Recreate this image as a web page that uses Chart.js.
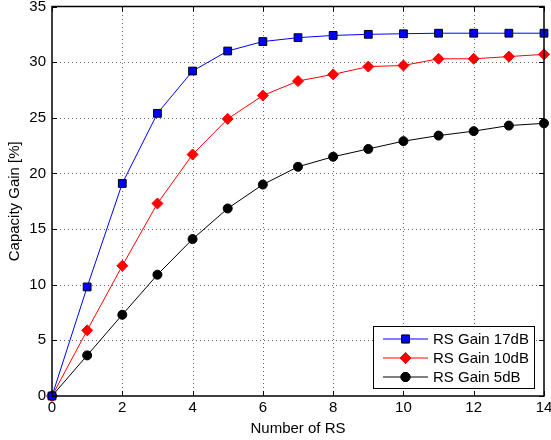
<!DOCTYPE html>
<html>
<head>
<meta charset="utf-8">
<script src="https://cdn.jsdelivr.net/npm/chart.js@4/dist/chart.umd.min.js"></script>
<style>
  html, body { margin: 0; padding: 0; background: #fff; }
  #wrap { width: 551px; height: 440px; }
</style>
</head>
<body>
<div id="wrap"><canvas id="c"></canvas></div>
<script>
const numRS = [0, 1, 2, 3, 4, 5, 6, 7, 8, 9, 10, 11, 12, 13, 14];
const gain17dB = [0, 9.8, 19.1, 25.4, 29.2, 31.0, 31.85, 32.2, 32.4, 32.5, 32.55, 32.6, 32.6, 32.6, 32.6];
const gain10dB = [0, 5.9, 11.7, 17.3, 21.7, 24.9, 27.0, 28.3, 28.9, 29.6, 29.7, 30.3, 30.3, 30.5, 30.7];
const gain5dB = [0, 3.65, 7.3, 10.9, 14.1, 16.85, 19.0, 20.6, 21.5, 22.2, 22.9, 23.4, 23.8, 24.3, 24.5];
const xTicks = [0, 2, 4, 6, 8, 10, 12, 14];
const yTicks = [0, 5, 10, 15, 20, 25, 30, 35];

const FONT = 'Liberation Sans, Arial, sans-serif';

function pts(values) {
    return numRS.map((x, i) => ({ x: x, y: values[i] }));
}

// dotted grid like matlab's "grid on"
const dottedGrid = {
    id: 'dottedGrid',
    beforeDatasetsDraw(chart) {
        const { ctx, chartArea: a, scales } = chart;
        ctx.save();
        ctx.strokeStyle = 'rgba(0,0,0,0.6)';
        ctx.lineWidth = 1;
        ctx.setLineDash([1, 3]);
        ctx.beginPath();
        xTicks.slice(1, -1).forEach(v => {
            const px = Math.round(scales.x.getPixelForValue(v)) + 0.5;
            ctx.moveTo(px, a.bottom); ctx.lineTo(px, a.top);
        });
        yTicks.slice(1, -1).forEach(v => {
            const py = Math.round(scales.y.getPixelForValue(v)) + 0.5;
            ctx.moveTo(a.left, py); ctx.lineTo(a.right, py);
        });
        ctx.stroke();
        ctx.restore();
    }
};

// box around the axes, inward ticks, legend in the lower right
const matlabFrame = {
    id: 'matlabFrame',
    afterDatasetsDraw(chart) {
        const { ctx, chartArea: a, scales } = chart;
        ctx.save();
        ctx.strokeStyle = '#000';
        ctx.lineWidth = 1;
        ctx.beginPath();
        xTicks.forEach(v => {
            const px = Math.round(scales.x.getPixelForValue(v)) + 0.5;
            ctx.moveTo(px, a.bottom); ctx.lineTo(px, a.bottom - 5);
            ctx.moveTo(px, a.top); ctx.lineTo(px, a.top + 5);
        });
        yTicks.forEach(v => {
            const py = Math.round(scales.y.getPixelForValue(v)) + 0.5;
            ctx.moveTo(a.left, py); ctx.lineTo(a.left + 5, py);
            ctx.moveTo(a.right, py); ctx.lineTo(a.right - 5, py);
        });
        ctx.stroke();
        ctx.lineWidth = 1.5;
        ctx.strokeRect(a.left, a.top, a.right - a.left, a.bottom - a.top);

        // legend
        const bx = a.right - 171, by = a.bottom - 70, bw = 161, bh = 62;
        ctx.fillStyle = '#fff';
        ctx.fillRect(bx, by, bw, bh);
        ctx.lineWidth = 1;
        ctx.strokeRect(bx + 0.5, by + 0.5, bw, bh);
        ctx.font = '15px ' + FONT;
        ctx.textBaseline = 'middle';
        chart.data.datasets.forEach((ds, i) => {
            const cy = by + 13 + i * 19;
            ctx.strokeStyle = ds.borderColor;
            ctx.lineWidth = 1;
            ctx.beginPath();
            ctx.moveTo(bx + 10, cy); ctx.lineTo(bx + 55, cy);
            ctx.stroke();
            Chart.helpers.drawPoint(ctx, {
                pointStyle: ds.pointStyle,
                radius: ds.pointRadius,
                borderWidth: 1
            }, bx + 32.5, cy);
            ctx.fillStyle = ds.pointBackgroundColor;
            ctx.strokeStyle = ds.pointBorderColor;
            ctx.fill();
            ctx.stroke();
            ctx.fillStyle = '#000';
            ctx.fillText(ds.label, bx + 60, cy + 1);
        });
        ctx.restore();
    }
};

new Chart(document.getElementById('c'), {
    type: 'line',
    data: {
        datasets: [
            {
                label: 'RS Gain 17dB',
                data: pts(gain17dB),
                borderColor: '#0000ff',
                borderWidth: 1,
                pointStyle: 'rect',
                pointRadius: 5.5,
                pointBackgroundColor: '#0000ff',
                pointBorderColor: '#000',
                pointBorderWidth: 1,
                clip: false
            },
            {
                label: 'RS Gain 10dB',
                data: pts(gain10dB),
                borderColor: '#ff0000',
                borderWidth: 1,
                pointStyle: 'rectRot',
                pointRadius: 5.5,
                pointBackgroundColor: '#ff0000',
                pointBorderColor: '#ff0000',
                pointBorderWidth: 1,
                clip: false
            },
            {
                label: 'RS Gain 5dB',
                data: pts(gain5dB),
                borderColor: '#000000',
                borderWidth: 1,
                pointStyle: 'circle',
                pointRadius: 4.5,
                pointBackgroundColor: '#000',
                pointBorderColor: '#000',
                pointBorderWidth: 1,
                clip: false
            }
        ]
    },
    options: {
        responsive: true,
        maintainAspectRatio: false,
        animation: false,
        layout: { padding: { top: 6, right: 7, left: 0, bottom: 0 } },
        plugins: {
            legend: { display: false },
            tooltip: { enabled: false }
        },
        scales: {
            x: {
                type: 'linear',
                min: 0,
                max: 14,
                afterBuildTicks: s => { s.ticks = xTicks.map(v => ({ value: v })); },
                afterFit: s => { s.height = 44; s.paddingLeft = 0; s.paddingRight = 0; },
                border: { display: false },
                grid: { display: false, drawTicks: false, tickLength: 0 },
                ticks: { color: '#000', font: { family: FONT, size: 15 }, padding: 3, maxRotation: 0 },
                title: { display: true, text: 'Number of RS', color: '#000', font: { family: FONT, size: 15 }, padding: { top: 0, bottom: 2 } }
            },
            y: {
                min: 0,
                max: 35,
                afterBuildTicks: s => { s.ticks = yTicks.map(v => ({ value: v })); },
                afterFit: s => { s.width = 52; s.paddingTop = 0; s.paddingBottom = 0; },
                border: { display: false },
                grid: { display: false, drawTicks: false, tickLength: 0 },
                ticks: { color: '#000', font: { family: FONT, size: 15 }, padding: 6 },
                title: { display: true, text: 'Capacity Gain [%]', color: '#000', font: { family: FONT, size: 15 }, padding: { top: 6, bottom: 0 } }
            }
        }
    },
    plugins: [dottedGrid, matlabFrame]
});
</script>
</body>
</html>
